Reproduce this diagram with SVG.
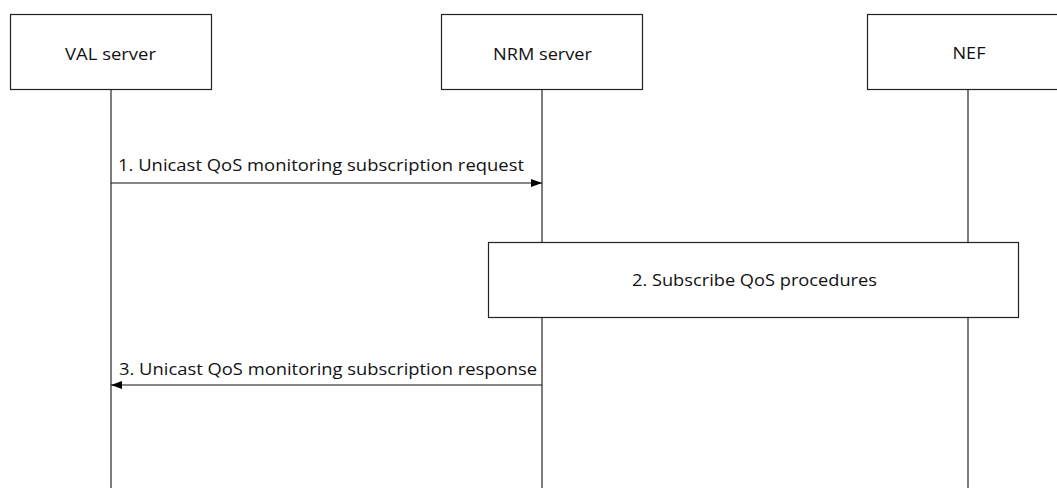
<svg xmlns="http://www.w3.org/2000/svg" width="1057" height="488" viewBox="0 0 1057 488">
<style>
.box{fill:#fff;stroke:#222;stroke-width:1.2}
.life{stroke:#111;stroke-width:1.1;fill:none}
.msg{stroke:#111;stroke-width:1.1;fill:none}
text{font-family:"Open Sans","Liberation Sans",sans-serif;font-size:15.5px;fill:#111}
.c{text-anchor:middle}
</style>
<defs>
<marker id="ah" markerWidth="11" markerHeight="8" refX="11" refY="4" orient="auto" markerUnits="userSpaceOnUse">
<path d="M0,0 L11,4 L0,8 Z" fill="#000"/>
</marker>
</defs>
<rect width="1057" height="488" fill="#fff"/>
<g id="lifelines">
<line class="life" x1="111" y1="90" x2="111" y2="488"/>
<line class="life" x1="542" y1="90" x2="542" y2="488"/>
<line class="life" x1="968" y1="90" x2="968" y2="488"/>
</g>
<g id="val">
<rect class="box" x="10.5" y="14.5" width="201" height="75"/>
<text class="c" x="110.5" y="60" textLength="91" lengthAdjust="spacingAndGlyphs">VAL server</text>
</g>
<g id="nrm">
<rect class="box" x="441.5" y="14.5" width="201" height="75"/>
<text class="c" x="542.5" y="60" textLength="99" lengthAdjust="spacingAndGlyphs">NRM server</text>
</g>
<g id="nef">
<rect class="box" x="867.5" y="14.5" width="201" height="75"/>
<text class="c" x="969" y="59" textLength="33" lengthAdjust="spacingAndGlyphs">NEF</text>
</g>
<g id="connectors">
<line class="msg" x1="111" y1="183" x2="542" y2="183" marker-end="url(#ah)"/>
<text x="118" y="171" textLength="406" lengthAdjust="spacingAndGlyphs">1. Unicast QoS monitoring subscription request</text>
<line class="msg" x1="542" y1="385" x2="111" y2="385" marker-end="url(#ah)"/>
<text x="119" y="375" textLength="418" lengthAdjust="spacingAndGlyphs">3. Unicast QoS monitoring subscription response</text>
</g>
<g id="step2">
<rect class="box" x="488.5" y="242.5" width="530" height="75"/>
<text x="632" y="286" textLength="245" lengthAdjust="spacingAndGlyphs">2. Subscribe QoS procedures</text>
</g>
</svg>
